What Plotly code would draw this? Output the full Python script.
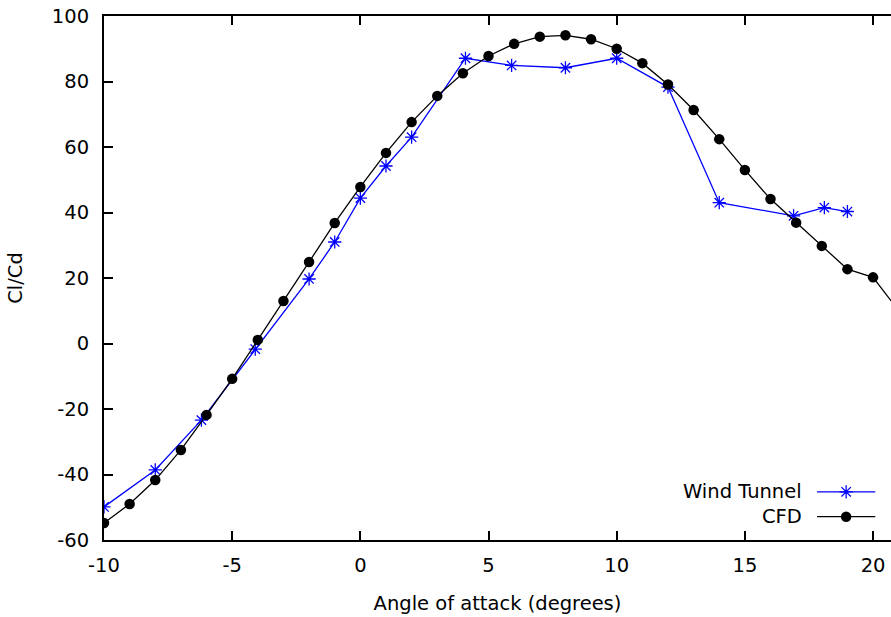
import plotly.graph_objects as go

# ---- data ----
cfd_alpha = [-10, -9, -8, -7, -6, -5, -4, -3, -2, -1, 0, 1, 2, 3, 4, 5, 6, 7, 8, 9,
             10, 11, 12, 13, 14, 15, 16, 17, 18, 19, 20, 21]
cfd_clcd = [-54.8, -49.0, -41.7, -32.5, -21.8, -10.8, 1.1, 13.0, 24.9, 36.8, 47.8, 58.2,
            67.6, 75.6, 82.5, 87.8, 91.5, 93.7, 94.1, 92.9, 90.0, 85.6, 79.1, 71.3, 62.4,
            53.0, 44.1, 36.9, 29.8, 22.7, 20.2, 10.0]

wt_alpha = [-10, -8, -6.2, -4.1, -2, -1, 0, 1, 2, 4.1, 5.9, 8, 10, 12, 14, 16.9, 18.1, 19]
wt_clcd = [-49.9, -38.6, -23.4, -1.7, 19.7, 31.0, 44.4, 54.2, 63.0, 87.1, 84.9, 84.2,
           87.1, 78.3, 43.0, 39.0, 41.5, 40.3]

x_ticks = [-10, -5, 0, 5, 10, 15, 20]
y_ticks = [-60, -40, -20, 0, 20, 40, 60, 80, 100]

series_names = ["Wind Tunnel", "CFD"]

FONT = "DejaVu Sans"
FS = 19.5
BLUE = "#0000ff"

fig = go.Figure()

wt_marker = dict(symbol="asterisk-open", size=11, color=BLUE, line=dict(color=BLUE, width=1.3))
cfd_marker = dict(symbol="circle", size=10.5, color="#000000")

fig.add_trace(go.Scatter(
    x=wt_alpha, y=wt_clcd, mode="lines+markers", name=series_names[0],
    line=dict(color=BLUE, width=1.3), marker=wt_marker,
    showlegend=False, cliponaxis=True))

fig.add_trace(go.Scatter(
    x=cfd_alpha, y=cfd_clcd, mode="lines+markers", name=series_names[1],
    line=dict(color="#000000", width=1.3), marker=cfd_marker,
    showlegend=False, cliponaxis=True))

# ---- gnuplot-style legend (key) : text then sample, drawn on helper axis ----
key_rows = [0.092, 0.0445]
key_styles = [
    dict(line=dict(color=BLUE, width=1.3), marker=wt_marker),
    dict(line=dict(color="#000000", width=1.3), marker=cfd_marker),
]
for name, ky, st in zip(series_names, key_rows, key_styles):
    fig.add_trace(go.Scatter(x=[0.906, 0.980], y=[ky, ky], mode="lines",
                             line=st["line"], xaxis="x2", yaxis="y2",
                             showlegend=False, hoverinfo="skip"))
    fig.add_trace(go.Scatter(x=[0.943], y=[ky], mode="markers",
                             marker=st["marker"], xaxis="x2", yaxis="y2",
                             showlegend=False, hoverinfo="skip"))
    fig.add_annotation(x=0.8895, y=ky, xref="x2 domain", yref="y2 domain",
                       text=name, showarrow=False, xanchor="right", yanchor="middle",
                       font=dict(family=FONT, size=FS, color="black"))

axis_common = dict(
    showgrid=False, zeroline=False, showline=True, linecolor="black", linewidth=2,
    ticks="inside", ticklen=9, tickwidth=1.5, tickcolor="black", automargin=False,
    tickfont=dict(family=FONT, size=FS, color="black"),
)

fig.update_layout(
    width=891, height=617,
    margin=dict(l=104, r=0, t=16, b=77),
    paper_bgcolor="white", plot_bgcolor="white",
    font=dict(family=FONT, size=FS, color="black"),
    xaxis=dict(range=[-10, 20.7], tickvals=x_ticks, ticktext=[str(v) for v in x_ticks],
               mirror="ticks", ticklabelstandoff=7,
               title=dict(text="Angle of attack (degrees)", standoff=20,
                          font=dict(family=FONT, size=FS, color="black")),
               **axis_common),
    yaxis=dict(range=[-60, 100], tickvals=y_ticks, ticktext=[str(v) for v in y_ticks],
               mirror=False, ticklabelstandoff=9,
               title=dict(text="Cl/Cd", standoff=24,
                          font=dict(family=FONT, size=FS, color="black")),
               **axis_common),
    xaxis2=dict(range=[0, 1], overlaying="x", visible=False, fixedrange=True),
    yaxis2=dict(range=[0, 1], overlaying="y", visible=False, fixedrange=True),
    showlegend=False,
)

fig.write_html("out.html",
               config={"displayModeBar": False},
               post_script="document.body.style.margin='0px';"
                           "document.body.style.overflow='hidden';")
